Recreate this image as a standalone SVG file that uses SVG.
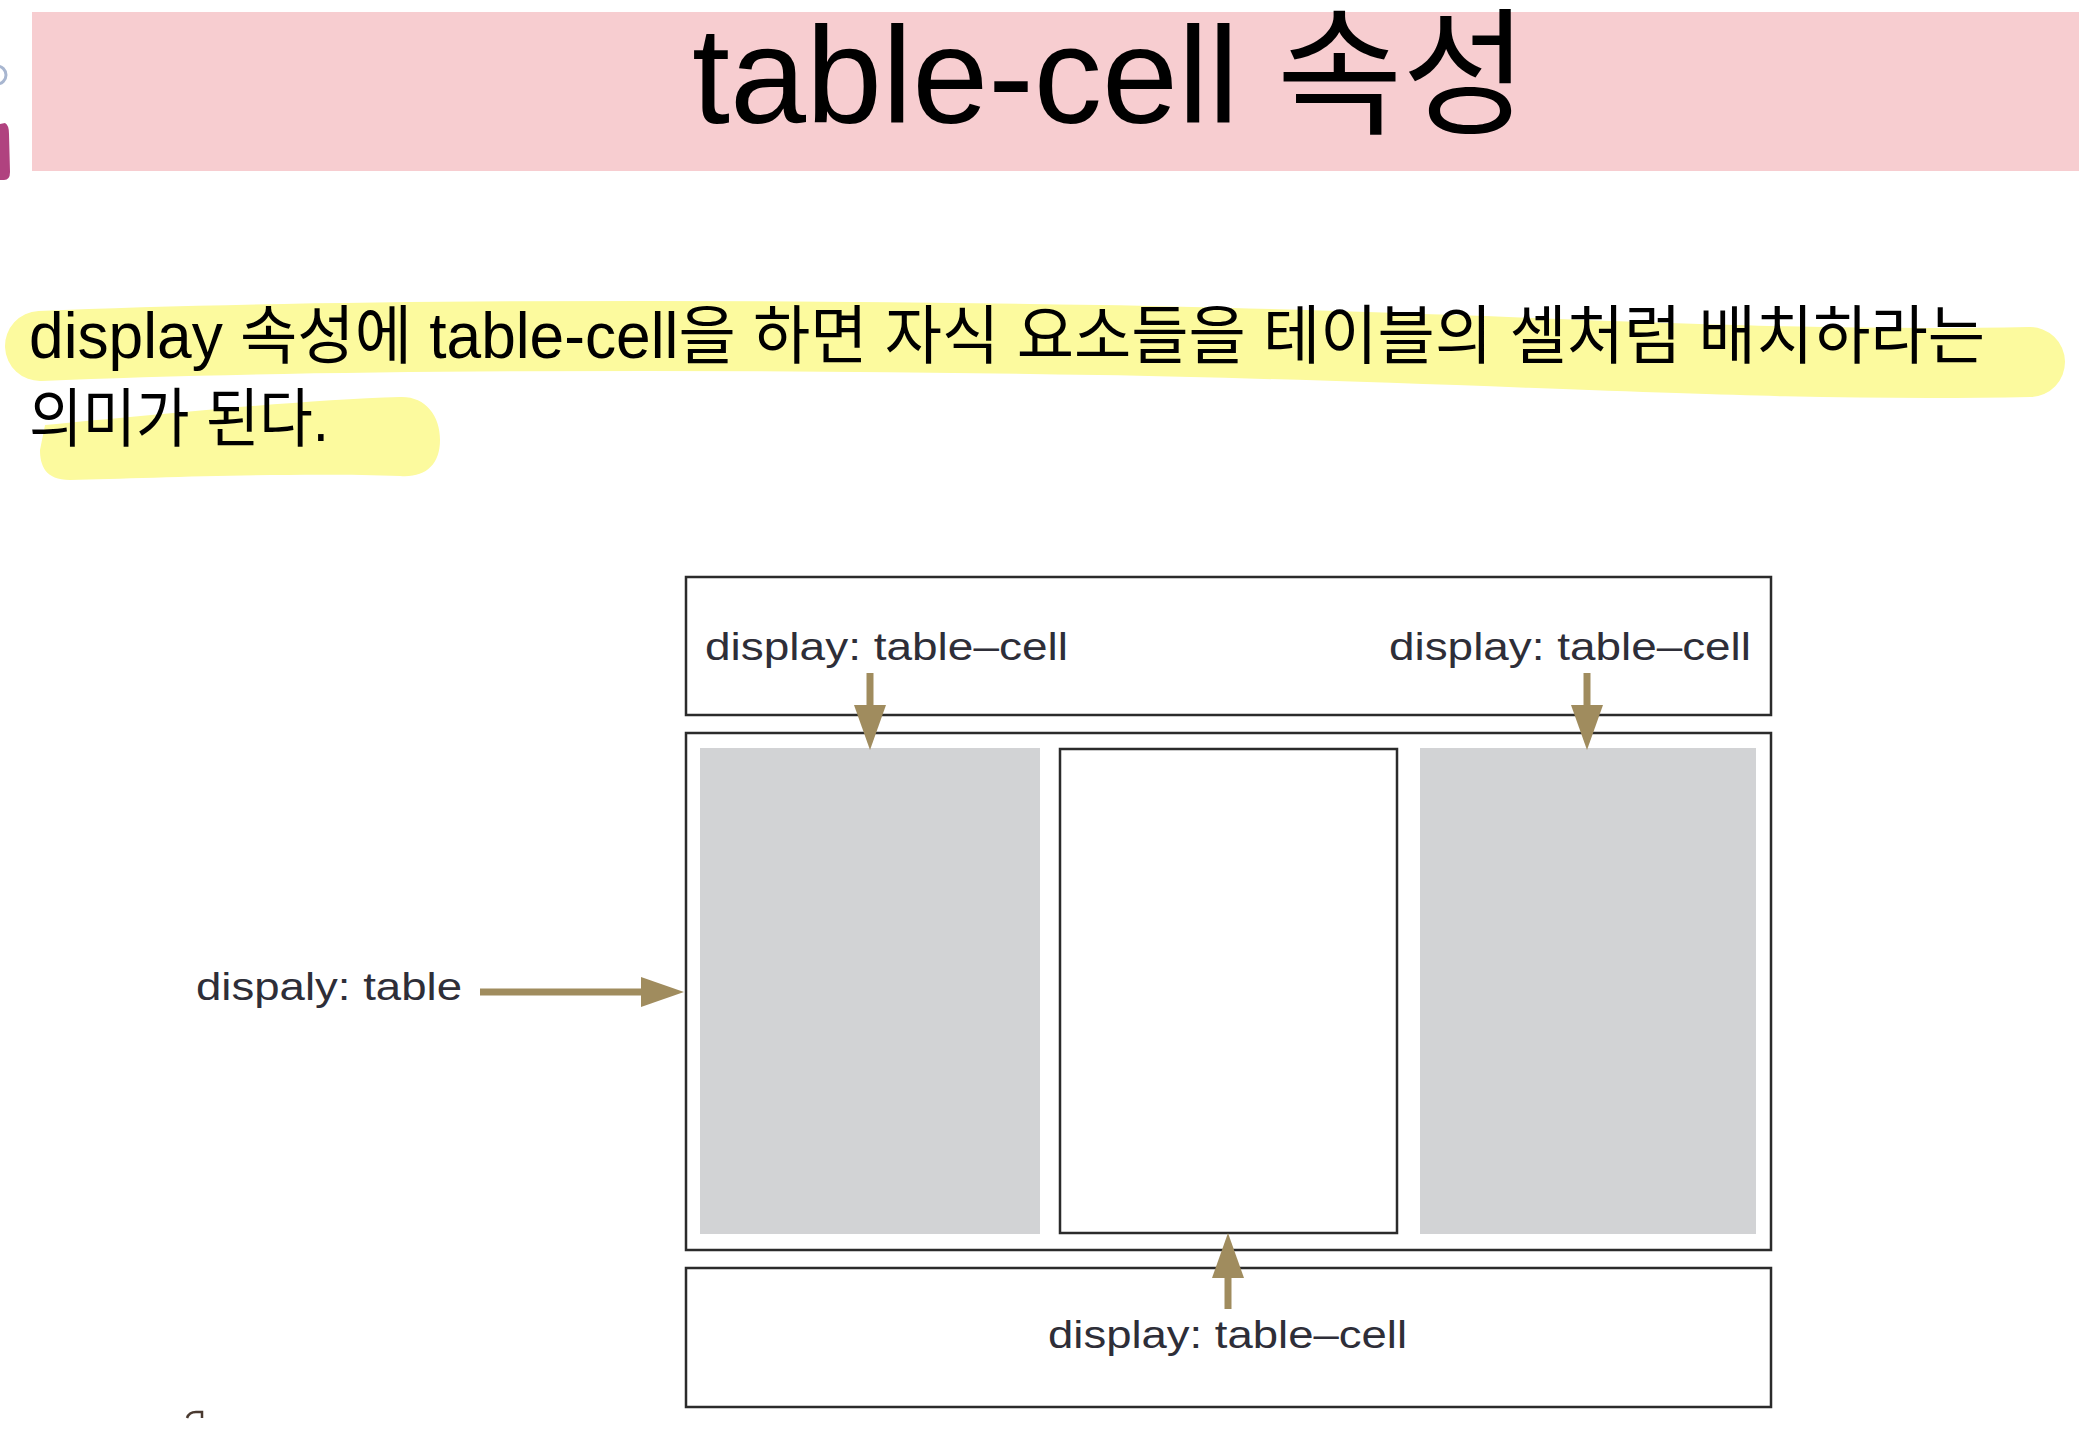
<svg xmlns="http://www.w3.org/2000/svg" width="2079" height="1449" viewBox="0 0 2079 1449">
<style>
.box{fill:#ffffff;stroke:#2b2b2b;stroke-width:2.5}
.gray{fill:#D2D3D5}
.lbl{font-family:"Liberation Sans",Arial,sans-serif;font-size:38px;fill:#2e2e38}
.kr{font-family:"Liberation Sans","Noto Sans CJK KR",sans-serif;fill:#000}
.shaft{stroke:#A08C5E;stroke-width:7}
.head{fill:#A08C5E}
.hl{fill:none;stroke:#FCFA9E;stroke-linecap:round}
</style>
<rect width="2079" height="1449" fill="#ffffff"/>
<g id="icon">
<circle cx="-3" cy="75" r="9" fill="none" stroke="#A8B6D0" stroke-width="3"/>
<path d="M0 124 L5 123 Q9 125 9 134 L10 172 Q10 180 4 180 L0 180 Z" fill="#B0427F"/>
</g>
<g id="title">
<rect x="32" y="12" width="2047" height="159" fill="#F7CDD0"/>
<text class="kr" x="692" y="123" font-size="138" textLength="836" lengthAdjust="spacingAndGlyphs">table-cell 속성</text>
</g>
<g id="description">
<path class="hl" stroke-width="70" d="M40 346 C300 335 700 333 1100 340 S1750 368 2030 362"/>
<path fill="#FCFA9E" d="M45 425 C150 415 300 400 400 397 C425 396 440 415 440 440 C440 465 425 478 400 476 C300 472 150 478 70 480 C45 480 40 465 40 450 Z"/>
<text class="kr" x="29" y="358" font-size="64" textLength="1956" lengthAdjust="spacingAndGlyphs">display 속성에 table-cell을 하면 자식 요소들을 테이블의 셀처럼 배치하라는</text>
<text class="kr" x="29" y="441" font-size="64" textLength="300" lengthAdjust="spacingAndGlyphs">의미가 된다.</text>
</g>
<g id="top-box">
<rect class="box" x="686" y="577" width="1085" height="138"/>
<text class="lbl" x="705" y="660" textLength="363" lengthAdjust="spacingAndGlyphs">display: table–cell</text>
<text class="lbl" x="1389" y="660" textLength="362" lengthAdjust="spacingAndGlyphs">display: table–cell</text>
</g>
<g id="table-box">
<rect class="box" x="686" y="733" width="1085" height="517"/>
</g>
<g id="cell-left">
<rect class="gray" x="700" y="748" width="340" height="486"/>
</g>
<g id="cell-middle">
<rect class="box" x="1060" y="749" width="337" height="484"/>
</g>
<g id="cell-right">
<rect class="gray" x="1420" y="748" width="336" height="486"/>
</g>
<g id="bottom-box">
<rect class="box" x="686" y="1268" width="1085" height="139"/>
<text class="lbl" x="1048" y="1348" textLength="359" lengthAdjust="spacingAndGlyphs">display: table–cell</text>
</g>
<g id="table-label">
<text class="lbl" x="196" y="1000" textLength="266" lengthAdjust="spacingAndGlyphs">dispaly: table</text>
</g>
<g id="connectors">
<line class="shaft" x1="870" y1="673" x2="870" y2="708"/>
<polygon class="head" points="854,705 886,705 870,750"/>
<line class="shaft" x1="1587" y1="673" x2="1587" y2="708"/>
<polygon class="head" points="1571,705 1603,705 1587,750"/>
<line class="shaft" x1="1228" y1="1276" x2="1228" y2="1309"/>
<polygon class="head" points="1212,1278 1244,1278 1228,1233"/>
<line class="shaft" x1="480" y1="992" x2="644" y2="992"/>
<polygon class="head" points="641,977 641,1007 684,992"/>
</g>
<path d="M187 1418 Q189 1412 196 1412 L202 1412 L202 1418" fill="none" stroke="#4a3a30" stroke-width="2.5"/>
</svg>
